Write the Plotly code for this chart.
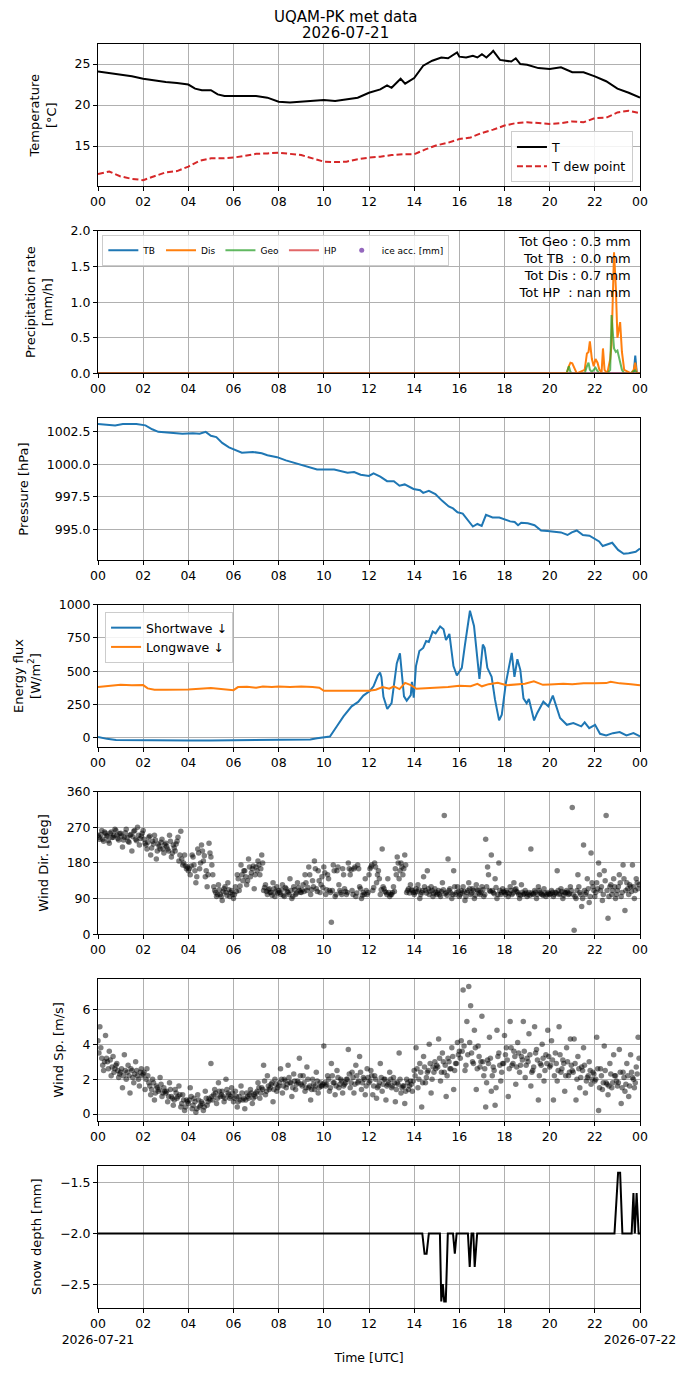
import pandas as pd
import plotly.graph_objects as go
from plotly.subplots import make_subplots

DAY0 = pd.Timestamp("2026-07-21 00:00")


def at(hours):
    return [DAY0 + pd.Timedelta(hours=h) for h in hours]


# ---------------- data ----------------
tick_hours = [0, 2, 4, 6, 8, 10, 12, 14, 16, 18, 20, 22, 24]
tick_labels = ["00", "02", "04", "06", "08", "10", "12", "14", "16", "18", "20", "22", "00"]
date_labels = ["2026-07-21", "2026-07-22"]
title_lines = ["UQAM-PK met data", "2026-07-21"]

# Temperature
t_hours = [0, 0.5, 1, 1.5, 2, 2.5, 3, 3.5, 4, 4.3, 4.6, 5, 5.3, 5.6, 6, 6.5, 7, 7.5, 8, 8.5, 9,
           9.5, 10, 10.5, 11, 11.5, 12, 12.5, 12.8, 13.0, 13.4, 13.6, 14, 14.4, 14.8, 15.2, 15.5,
           15.9, 16.0, 16.3, 16.6, 16.8, 17.0, 17.2, 17.4, 17.5, 17.8, 18.0, 18.3, 18.5, 18.7,
           19.0, 19.5, 20.0, 20.5, 21.0, 21.5, 22.0, 22.5, 23.0, 23.5, 24.0]
t_air = [24.1, 23.9, 23.7, 23.5, 23.2, 23.0, 22.8, 22.7, 22.5, 22.0, 21.8, 21.8, 21.3, 21.1, 21.1,
         21.1, 21.1, 20.9, 20.4, 20.3, 20.4, 20.5, 20.6, 20.5, 20.7, 20.9, 21.5, 21.9, 22.4, 22.1,
         23.2, 22.6, 23.3, 24.8, 25.4, 25.8, 25.7, 26.4, 25.9, 25.8, 26.0, 25.8, 26.2, 25.8, 26.3,
         26.6, 25.5, 25.4, 25.3, 25.7, 25.0, 24.9, 24.5, 24.4, 24.6, 24.0, 24.0, 23.5, 22.9, 22.0,
         21.5, 20.9]
td_hours = [0, 0.5, 1, 1.5, 2, 2.5, 3, 3.5, 4, 4.5, 5, 5.5, 6, 6.5, 7, 7.5, 8, 8.5, 9, 9.5, 10,
            10.5, 11, 11.5, 12, 12.5, 13, 13.5, 14, 14.5, 15, 15.5, 16, 16.5, 17, 17.5, 18, 18.5,
            19, 19.5, 20, 20.5, 21, 21.5, 22, 22.5, 23, 23.5, 24]
t_dew = [11.6, 11.9, 11.3, 11.0, 10.85, 11.3, 11.8, 11.95, 12.5, 13.2, 13.5, 13.5, 13.6, 13.8,
         14.05, 14.1, 14.2, 14.05, 13.9, 13.5, 13.1, 13.05, 13.1, 13.4, 13.6, 13.7, 13.9, 14.0,
         14.0, 14.6, 15.1, 15.4, 15.85, 16.05, 16.6, 17.0, 17.5, 17.8, 17.9, 17.8, 17.7, 17.8,
         18.0, 17.9, 18.4, 18.45, 19.1, 19.3, 19.0]

# Precipitation rate [mm/h]
pr_hours = [0, 20.75, 20.85, 20.92, 21.0, 21.2, 21.55, 21.65, 21.72, 21.78, 21.87, 21.95, 22.03,
            22.12, 22.2, 22.3, 22.36, 22.43, 22.55, 22.68, 22.74, 22.85, 22.93, 23.0, 23.12, 23.2,
            23.3, 23.6, 23.72, 23.79, 23.86, 24.0]
rate_tb = [0.0, 0.0, 0.0, 0.0, 0.0, 0.0, 0.0, 0.0, 0.0, 0.0, 0.0, 0.0, 0.0, 0.0, 0.0, 0.0, 0.0,
           0.0, 0.0, 0.0, 0.0, 0.0, 0.0, 0.0, 0.0, 0.0, 0.0, 0.0, 0.0, 0.25, 0.0, 0.0]
rate_dis = [0.0, 0.0, 0.1, 0.15, 0.14, 0.0, 0.05, 0.28, 0.3, 0.45, 0.2, 0.1, 0.2, 0.15, 0.05, 0.02,
            0.35, 0.05, 0.0, 0.2, 0.4, 1.7, 1.2, 0.5, 0.72, 0.3, 0.05, 0.0, 0.05, 0.15, 0.0, 0.0]
rate_geo = [0.0, 0.0, 0.1, 0.02, 0.0, 0.0, 0.0, 0.1, 0.15, 0.05, 0.02, 0.05, 0.08, 0.03, 0.0, 0.0,
            0.0, 0.0, 0.0, 0.05, 0.82, 0.35, 0.3, 0.32, 0.15, 0.05, 0.0, 0.0, 0.03, 0.04, 0.0, 0.0]
rate_hp = [0.0, 0.0, 0.0, 0.0, 0.0, 0.0, 0.0, 0.0, 0.0, 0.0, 0.0, 0.0, 0.0, 0.0, 0.0, 0.0, 0.0,
           0.0, 0.0, 0.0, 0.0, 0.0, 0.0, 0.0, 0.0, 0.0, 0.0, 0.0, 0.0, 0.0, 0.0, 0.0]
ice_hours = [0]
ice_acc = [None]          # no ice accumulation recorded
totals_text = ["Tot Geo : 0.3 mm", "Tot TB\u00a0 : 0.0 mm", "Tot Dis : 0.7 mm", "Tot HP\u00a0 : nan mm"]

# Pressure [hPa]
p_hours = [0, 0.76, 1.1, 1.7, 2.1, 2.4, 2.67, 3.25, 3.74, 4.2, 4.5, 4.77, 5.0, 5.24, 5.5, 5.8,
           6.08, 6.37, 6.86, 7.25, 7.5, 7.93, 8.32, 8.7, 9.1, 9.4, 9.7, 10.46, 10.75, 11.05, 11.34,
           11.63, 12.0, 12.2, 12.5, 12.8, 13.1, 13.35, 13.58, 13.97, 14.26, 14.4, 14.65, 14.94,
           15.23, 15.53, 15.72, 15.92, 16.15, 16.4, 16.6, 16.8, 16.99, 17.18, 17.47, 17.77, 18.06,
           18.25, 18.45, 18.6, 18.74, 19.03, 19.33, 19.62, 19.9, 20.2, 20.5, 20.79, 20.98, 21.2,
           21.47, 21.76, 21.96, 22.19, 22.35, 22.58, 22.77, 23.03, 23.28, 23.5, 23.81, 24.0]
pressure = [1003.1, 1003.0, 1003.1, 1003.1, 1003.0, 1002.7, 1002.5, 1002.4, 1002.35, 1002.4,
            1002.35, 1002.5, 1002.2, 1002.1, 1001.65, 1001.3, 1001.1, 1000.9, 1000.95, 1000.85,
            1000.7, 1000.55, 1000.3, 1000.1, 999.9, 999.7, 999.6, 999.6, 999.5, 999.35, 999.4,
            999.2, 999.1, 999.3, 999.05, 998.7, 998.7, 998.35, 998.45, 998.1, 998.0, 997.8, 997.95,
            997.7, 997.2, 996.75, 996.6, 996.3, 996.2, 995.6, 995.2, 995.4, 995.25, 996.1, 995.9,
            995.9, 995.7, 995.6, 995.55, 995.3, 995.5, 995.45, 995.3, 994.9, 994.85, 994.8, 994.75,
            994.55, 994.75, 994.9, 994.55, 994.5, 994.3, 994.05, 993.7, 993.85, 993.95, 993.4,
            993.1, 993.15, 993.25, 993.5]

# Energy flux [W/m2]
sw_hours = [0, 0.4, 0.8, 1.5, 2, 3, 4, 5, 6, 7, 8, 9, 9.4, 9.7, 10.0,
            10.27, 10.57, 10.87, 11.23, 11.52, 11.75, 12.02, 12.2, 12.39, 12.49,
            12.55, 12.64, 12.81, 13.0, 13.23, 13.37, 13.45, 13.55, 13.67, 13.85,
            13.9, 13.98, 14.08, 14.23, 14.4, 14.53, 14.65, 14.82, 14.95, 15.15,
            15.3, 15.41, 15.56, 15.74, 15.89, 16.11, 16.25, 16.47, 16.65, 16.77,
            16.89, 17.04, 17.12, 17.24, 17.43, 17.58, 17.76, 17.88, 18.06, 18.32,
            18.44, 18.57, 18.7, 18.84, 18.98, 19.08, 19.31, 19.45, 19.72, 19.94,
            20.14, 20.46, 20.76, 21.05, 21.4, 21.55, 21.75, 22.01, 22.23, 22.5,
            22.8, 23.1, 23.4, 23.71, 24.0]
shortwave = [5, -10, -18, -20, -22, -23, -23, -23, -22, -21, -21, -20, -15, -5, 0,
             8, 83, 159, 235, 268, 316, 348, 386, 467, 490,
             455, 306, 215, 260, 558, 634, 480, 310, 278, 320,
             420, 300, 538, 652, 675, 727, 720, 798, 785, 836,
             815, 735, 780, 538, 467, 525, 700, 955, 840, 664,
             442, 700, 675, 525, 457, 285, 129, 172, 410, 638,
             457, 590, 510, 295, 258, 290, 129, 185, 270, 235,
             316, 147, 96, 109, 84, 114, 71, 96, 28, 16,
             33, 41, 16, 33, 8]
lw_hours = [0, 0.3, 0.7, 1.0, 1.5, 2.0, 2.2, 2.5, 3, 4, 5, 5.5, 6.0, 6.2, 6.6, 7.0, 7.3, 7.7, 8,
            8.5, 9, 9.5, 9.8, 10.0, 11, 12, 12.3, 12.6, 12.9, 13.1, 13.35, 13.6, 13.85, 14.1,
            14.5, 15, 15.5, 16, 16.5, 16.8, 17.0, 17.3, 17.7, 18.1, 18.5, 18.9, 19.3, 19.7, 20.0,
            20.6, 21, 21.5, 22, 22.5, 22.7, 23.1, 23.6, 24.0]
longwave = [380, 385, 395, 398, 393, 395, 370, 360, 360, 362, 373, 365, 357, 380, 383, 375, 385,
            380, 385, 380, 385, 380, 375, 352, 350, 352, 360, 380, 368, 386, 365, 412, 395, 367,
            372, 375, 380, 390, 386, 405, 386, 402, 412, 394, 398, 405, 423, 397, 400, 405, 402,
            408, 408, 410, 420, 408, 402, 394]

# Wind, samples every 5 minutes starting at :00 (one row per hour)
wind_dir = [
    250, 240, 262, 235, 255, 248, 230, 258, 245, 265, 250, 238,
    255, 220, 245, 265, 235, 250, 210, 260, 240, 270, 225, 248,
    262, 230, 215, 245, 200, 235, 250, 190, 228, 215, 240, 205,
    230, 215, 250, 195, 225, 210, 235, 185, 260, 175, 200, 165,
    160, 150, 200, 175, 130, 215, 165, 225, 185, 145, 120, 230,
    195, 150, 110, 95, 125, 100, 85, 115, 105, 130, 95, 110,
    90, 120, 150, 110, 175, 135, 160, 125, 190, 145, 165, 115,
    170, 185, 150, 200, 110, 125, 100, 115, 105, 130, 95, 120,
    110, 100, 125, 95, 115, 105, 140, 90, 120, 100, 130, 110,
    105, 125, 150, 110, 170, 100, 135, 185, 115, 160, 105, 145,
    170, 100, 150, 110, 30, 175, 95, 160, 125, 105, 165, 115,
    100, 180, 150, 110, 165, 95, 175, 120, 90, 105, 140, 100,
    150, 170, 110, 180, 130, 160, 100, 215, 115, 105, 140, 95,
    100, 120, 165, 195, 140, 180, 150, 200, 105, 115, 125, 110,
    100, 115, 125, 90, 105, 145, 110, 160, 100, 120, 95, 115,
    100, 110, 95, 130, 300, 105, 190, 115, 90, 160, 100, 120,
    95, 110, 120, 85, 105, 130, 100, 115, 90, 125, 110, 100,
    120, 95, 240, 170, 110, 200, 105, 140, 90, 180, 100, 115,
    105, 110, 95, 120, 100, 130, 115, 105, 90, 125, 100, 110,
    95, 105, 215, 100, 110, 90, 120, 105, 100, 115, 95, 105,
    100, 110, 95, 105, 160, 100, 115, 90, 105, 110, 100, 120,
    320, 10, 90, 150, 105, 70, 225, 100, 140, 80, 205, 120,
    95, 130, 180, 110, 85, 160, 300, 40, 120, 100, 140, 90,
    110, 150, 95, 175, 60, 130, 100, 120, 175, 90, 140, 115,
]
# Wind, samples every 5 minutes starting at :02.5
wind_dir_mid = [
    245, 252, 240, 258, 248, 236, 255, 244, 250, 262, 242, 254,
    248, 238, 256, 244, 232, 252, 246, 262, 236, 250, 242, 255,
    240, 225, 232, 248, 218, 228, 238, 210, 222, 232, 215, 226,
    222, 210, 235, 205, 218, 228, 245, 200, 190, 180, 172, 170,
    165, 172, 195, 160, 145, 205, 180, 210, 198, 160, 150, 205,
    175, 120, 105, 100, 112, 95, 108, 120, 98, 112, 105, 100,
    100, 108, 140, 122, 150, 160, 145, 135, 170, 155, 172, 150,
    160, 175, 165, 180, 118, 108, 112, 105, 98, 115, 108, 104,
    105, 112, 98, 118, 108, 100, 110, 96, 112, 104, 118, 106,
    112, 108, 130, 118, 150, 112, 120, 165, 108, 135, 125, 118,
    155, 112, 140, 105, 110, 160, 100, 170, 110, 100, 150, 108,
    105, 165, 162, 100, 170, 104, 165, 115, 98, 100, 110, 105,
    165, 175, 118, 170, 150, 140, 112, 120, 108, 100, 105, 100,
    105, 108, 150, 180, 160, 170, 165, 175, 110, 104, 112, 105,
    105, 108, 112, 100, 110, 120, 104, 115, 108, 110, 102, 106,
    104, 100, 108, 112, 102, 98, 110, 104, 100, 120, 105, 108,
    100, 104, 108, 95, 110, 115, 104, 110, 98, 112, 104, 106,
    112, 100, 120, 150, 108, 110, 102, 118, 100, 110, 105, 108,
    100, 105, 102, 110, 104, 112, 108, 100, 98, 106, 102, 104,
    100, 98, 104, 102, 106, 100, 110, 102, 98, 104, 100, 102,
    102, 106, 100, 104, 110, 102, 108, 98, 104, 106, 102, 110,
    100, 95, 110, 120, 100, 90, 110, 105, 115, 95, 130, 110,
    105, 115, 150, 120, 100, 135, 110, 95, 125, 110, 120, 100,
    120, 130, 105, 140, 110, 115, 125, 108, 120, 110, 130, 125,
]
wind_speed = [
    4.2, 5.0, 3.2, 2.5, 4.5, 3.0, 3.6, 2.2, 3.3, 2.6, 2.9, 2.1,
    2.4, 1.5, 3.4, 2.0, 2.8, 1.2, 2.5, 1.8, 3.0, 2.2, 1.6, 2.6,
    2.3, 1.4, 2.6, 1.8, 1.1, 2.0, 0.8, 1.6, 1.3, 2.1, 1.0, 1.5,
    1.2, 0.7, 1.8, 1.0, 0.5, 1.4, 0.9, 1.6, 0.4, 1.1, 0.2, 0.8,
    0.6, 1.5, 0.3, 0.9, 0.1, 1.1, 0.4, 0.7, 0.2, 1.3, 0.5, 0.9,
    2.9, 0.8, 1.4, 0.6, 1.8, 1.0, 1.3, 0.7, 2.0, 1.2, 0.9, 1.5,
    0.7, 1.3, 0.4, 1.0, 1.6, 0.8, 0.3, 1.2, 0.9, 1.4, 0.6, 1.1,
    1.2, 1.8, 0.9, 1.5, 2.8, 1.1, 2.2, 1.4, 1.7, 0.7, 2.0, 1.3,
    1.6, 2.6, 1.2, 2.0, 1.5, 2.8, 1.8, 1.0, 2.3, 1.4, 1.9, 3.2,
    1.7, 2.2, 1.3, 2.7, 1.5, 0.8, 2.0, 1.4, 2.4, 1.2, 1.8, 1.6,
    3.9, 1.6, 2.2, 1.3, 2.9, 1.8, 1.1, 2.5, 1.5, 2.0, 1.2, 1.7,
    2.0, 3.7, 1.5, 2.4, 1.2, 2.8, 1.8, 3.3, 1.4, 2.1, 1.1, 2.6,
    1.8, 2.5, 1.1, 2.2, 0.9, 1.6, 2.9, 1.3, 2.0, 0.8, 1.7, 2.4,
    1.5, 2.1, 0.7, 1.8, 3.5, 1.2, 1.6, 0.6, 2.0, 1.4, 1.9, 1.3,
    2.5, 3.8, 1.5, 2.9, 0.4, 3.3, 1.8, 2.4, 4.0, 1.2, 2.7, 3.0,
    2.8, 4.3, 1.9, 3.5, 2.4, 1.0, 3.2, 2.6, 3.8, 1.4, 2.9, 4.1,
    3.6, 4.2, 7.1, 2.5, 5.3, 7.3, 6.2, 3.0, 4.8, 1.4, 3.9, 2.7,
    5.6, 2.2, 0.4, 3.1, 4.4, 1.3, 2.7, 0.5, 4.8, 3.5, 1.9, 2.9,
    4.5, 3.8, 1.0, 5.3, 2.8, 3.6, 1.7, 4.1, 2.4, 3.3, 5.3, 2.1,
    3.2, 4.6, 1.6, 2.5, 5.0, 3.7, 0.8, 2.9, 4.0, 1.9, 3.4, 4.8,
    2.7, 4.2, 0.8, 3.5, 1.9, 5.0, 2.4, 3.1, 1.3, 3.8, 2.2, 4.3,
    2.5, 4.3, 0.8, 3.3, 1.5, 2.7, 3.8, 1.2, 2.1, 3.0, 1.7, 2.4,
    1.9, 4.4, 0.2, 2.6, 1.4, 3.9, 1.8, 1.1, 2.9, 1.5, 3.4, 2.2,
    1.6, 3.7, 0.6, 2.4, 1.3, 2.9, 1.0, 3.4, 2.1, 1.5, 2.7, 4.4,
]
wind_speed_mid = [
    3.5, 3.8, 2.8, 3.0, 3.2, 2.6, 3.1, 2.7, 2.4, 2.8, 2.5, 2.3,
    2.6, 2.2, 2.5, 2.4, 2.2, 2.6, 2.1, 2.3, 2.5, 2.0, 2.4, 2.2,
    2.4, 2.0, 2.2, 1.6, 1.4, 1.8, 1.2, 1.5, 1.4, 1.7, 1.2, 1.3,
    1.3, 1.0, 1.4, 0.9, 0.8, 1.2, 1.0, 1.1, 0.6, 0.8, 0.4, 0.7,
    0.8, 1.0, 0.5, 0.7, 0.3, 0.8, 0.5, 0.6, 0.4, 0.9, 0.7, 0.8,
    1.0, 1.1, 1.2, 0.9, 1.3, 1.1, 1.0, 0.9, 1.4, 1.1, 1.0, 1.2,
    0.9, 1.0, 0.7, 0.8, 1.2, 0.9, 0.8, 1.0, 1.1, 1.2, 0.9, 1.0,
    1.3, 1.5, 1.2, 1.4, 1.9, 1.3, 1.6, 1.5, 1.8, 1.4, 1.7, 1.5,
    1.8, 2.0, 1.6, 1.9, 1.7, 2.1, 1.8, 1.5, 1.9, 1.7, 1.8, 2.2,
    1.6, 1.8, 1.5, 2.0, 1.6, 1.4, 1.7, 1.6, 1.9, 1.5, 1.6, 1.7,
    1.8, 1.7, 2.0, 1.5, 2.2, 1.8, 1.6, 2.1, 1.7, 1.9, 1.6, 1.8,
    2.0, 2.3, 1.8, 2.1, 1.7, 2.2, 1.9, 2.4, 1.8, 2.0, 1.6, 2.1,
    1.9, 2.2, 1.6, 2.0, 1.5, 1.8, 2.1, 1.7, 2.0, 1.6, 1.8, 2.0,
    1.6, 1.8, 1.4, 1.7, 2.0, 1.5, 1.6, 1.3, 1.8, 1.6, 1.7, 1.9,
    2.2, 2.6, 2.0, 2.4, 1.8, 2.7, 2.1, 2.5, 2.9, 2.0, 2.4, 2.6,
    2.7, 3.2, 2.4, 3.0, 2.8, 2.2, 3.0, 2.6, 3.3, 2.5, 2.9, 3.4,
    3.2, 3.6, 3.9, 2.8, 3.4, 4.1, 3.5, 2.9, 3.8, 2.6, 3.3, 3.0,
    3.0, 2.6, 1.8, 2.9, 3.2, 2.2, 2.5, 1.5, 3.3, 2.8, 2.4, 2.9,
    3.4, 3.1, 2.6, 3.8, 2.9, 3.3, 2.7, 3.5, 2.8, 3.1, 3.6, 2.8,
    3.0, 3.4, 2.4, 2.7, 3.5, 3.1, 2.2, 2.8, 3.2, 2.5, 2.9, 3.3,
    2.8, 3.1, 2.2, 2.9, 2.5, 3.4, 2.6, 2.9, 2.2, 3.0, 2.4, 2.8,
    2.4, 2.9, 2.0, 2.6, 2.1, 2.5, 2.8, 1.9, 2.2, 2.5, 2.0, 2.3,
    2.0, 2.6, 1.5, 2.2, 1.8, 2.5, 1.7, 1.6, 2.3, 1.8, 2.2, 1.9,
    1.8, 2.4, 1.5, 2.1, 1.7, 2.2, 1.6, 2.4, 2.0, 1.8, 2.3, 3.2,
]
wind_hours = [i / 12 for i in range(len(wind_dir))]
wind_hours_mid = [i / 12 + 1 / 24 for i in range(len(wind_dir_mid))]

# Snow depth [mm]
sn_hours = [0, 14.36, 14.46, 14.55, 14.65, 15.14, 15.2, 15.27, 15.33, 15.4, 15.49, 15.72, 15.8,
            15.88, 16.38, 16.46, 16.54, 16.62, 16.68, 16.79, 22.87, 23.03, 23.12, 23.22, 23.63,
            23.71, 23.77, 23.85, 23.94, 24.0]
snow_depth = [-2.0, -2.0, -2.2, -2.2, -2.0, -2.0, -2.67, -2.5, -2.67, -2.67, -2.0, -2.0, -2.2,
              -2.0, -2.0, -2.33, -2.0, -2.0, -2.33, -2.0, -2.0, -1.4, -1.4, -2.0, -2.0, -1.6,
              -2.0, -1.6, -2.0, -2.0]

# ---------------- figure ----------------
FONT = "DejaVu Sans"
BLUE, ORANGE, GREEN, RED, PURPLE = "#1f77b4", "#ff7f0e", "#2ca02c", "#d62728", "#9467bd"

fig = make_subplots(rows=7, cols=1, vertical_spacing=0.0352)

fig.add_trace(go.Scatter(x=at(t_hours), y=t_air, mode="lines", name="T",
                         line=dict(color="black", width=2), legend="legend"), row=1, col=1)
fig.add_trace(go.Scatter(x=at(td_hours), y=t_dew, mode="lines", name="T dew point",
                         line=dict(color=RED, width=2, dash="6px,3px"), legend="legend"), row=1, col=1)

fig.add_trace(go.Scatter(x=at(pr_hours), y=rate_tb, mode="lines", name="TB",
                         line=dict(color=BLUE, width=2), legend="legend2"), row=2, col=1)
fig.add_trace(go.Scatter(x=at(pr_hours), y=rate_dis, mode="lines", name="Dis",
                         line=dict(color=ORANGE, width=2), legend="legend2"), row=2, col=1)
fig.add_trace(go.Scatter(x=at(pr_hours), y=rate_geo, mode="lines", name="Geo",
                         line=dict(color="rgba(44,160,44,0.75)", width=2), legend="legend2"), row=2, col=1)
fig.add_trace(go.Scatter(x=at(pr_hours), y=rate_hp, mode="lines", name="HP",
                         line=dict(color="rgba(214,39,40,0.7)", width=2), legend="legend2"), row=2, col=1)
fig.add_trace(go.Scatter(x=at(ice_hours), y=ice_acc, mode="markers", name="ice acc. [mm]",
                         marker=dict(color=PURPLE, size=5), legend="legend2"), row=2, col=1)

fig.add_trace(go.Scatter(x=at(p_hours), y=pressure, mode="lines", showlegend=False,
                         line=dict(color=BLUE, width=2)), row=3, col=1)

fig.add_trace(go.Scatter(x=at(sw_hours), y=shortwave, mode="lines", name="Shortwave \u2193",
                         line=dict(color=BLUE, width=2), legend="legend3"), row=4, col=1)
fig.add_trace(go.Scatter(x=at(lw_hours), y=longwave, mode="lines", name="Longwave \u2193",
                         line=dict(color=ORANGE, width=2), legend="legend3"), row=4, col=1)

wind_marker = dict(color="black", size=5.5, opacity=0.5, line=dict(width=0))
fig.add_trace(go.Scatter(x=at(wind_hours + wind_hours_mid), y=wind_dir + wind_dir_mid,
                         mode="markers", showlegend=False, marker=wind_marker), row=5, col=1)
fig.add_trace(go.Scatter(x=at(wind_hours + wind_hours_mid), y=wind_speed + wind_speed_mid,
                         mode="markers", showlegend=False, marker=wind_marker), row=6, col=1)

fig.add_trace(go.Scatter(x=at(sn_hours), y=snow_depth, mode="lines", showlegend=False,
                         line=dict(color="black", width=2)), row=7, col=1)

axis_style = dict(showline=True, linecolor="black", linewidth=1, mirror=True,
                  ticks="outside", ticklen=4, tickwidth=1, tickcolor="black",
                  showgrid=True, gridcolor="#b0b0b0", gridwidth=1, zeroline=False,
                  tickfont=dict(family=FONT, size=12.5, color="black"))

tick_times = at(tick_hours)
bottom_labels = list(tick_labels)
bottom_labels[0] = tick_labels[0] + "<br>" + date_labels[0]
bottom_labels[-1] = tick_labels[-1] + "<br>" + date_labels[1]

for r in range(1, 8):
    fig.update_xaxes(row=r, col=1, type="date", range=[tick_times[0], tick_times[-1]],
                     tickmode="array", tickvals=tick_times, tickangle=0,
                     ticktext=bottom_labels if r == 7 else tick_labels, **axis_style)

fig.update_xaxes(row=7, col=1, title=dict(text="Time [UTC]", font=dict(family=FONT, size=12.5),
                                          standoff=6))

ytitle_font = dict(family=FONT, size=13, color="black")
fig.update_yaxes(row=1, col=1, range=[10.08, 27.44], tickmode="linear", tick0=0, dtick=5,
                 title=dict(text="Temperature<br>[°C]", font=ytitle_font), **axis_style)
fig.update_yaxes(row=2, col=1, range=[0, 2.0], tickmode="linear", tick0=0, dtick=0.5,
                 tickformat=".1f", title=dict(text="Precipitation rate<br>[mm/h]", font=ytitle_font),
                 **axis_style)
fig.update_yaxes(row=3, col=1, range=[992.6, 1003.58], tickmode="linear", tick0=1000, dtick=2.5,
                 tickformat=".1f", title=dict(text="Pressure [hPa]", font=ytitle_font), **axis_style)
fig.update_yaxes(row=4, col=1, range=[-73, 1000], tickmode="linear", tick0=0, dtick=250,
                 title=dict(text="Energy flux<br>[W/m<sup>2</sup>]", font=ytitle_font), **axis_style)
fig.update_yaxes(row=5, col=1, range=[0, 360], tickmode="linear", tick0=0, dtick=90,
                 title=dict(text="Wind Dir. [deg]", font=ytitle_font), **axis_style)
fig.update_yaxes(row=6, col=1, range=[-0.4, 7.75], tickmode="linear", tick0=0, dtick=2,
                 title=dict(text="Wind Sp. [m/s]", font=ytitle_font), **axis_style)
fig.update_yaxes(row=7, col=1, range=[-2.735, -1.33], tickmode="linear", tick0=-2, dtick=0.5,
                 tickformat=".1f", title=dict(text="Snow depth [mm]", font=ytitle_font), **axis_style)

fig.add_annotation(xref="x2 domain", yref="y2 domain", x=0.988, y=0.99, xanchor="right",
                   yanchor="top", align="right", showarrow=False,
                   text="<br>".join(totals_text), font=dict(family=FONT, size=13, color="black"))

# figure title (two lines), centred on the whole figure width
for line_text, shift in zip(title_lines, [27, 11.5]):
    fig.add_annotation(xref="paper", yref="paper", x=(345 - 98) / 542, y=1, xanchor="center",
                       yanchor="middle", yshift=shift, showarrow=False,
                       text=line_text, font=dict(family=FONT, size=15, color="black"))

legend_box = dict(bgcolor="rgba(255,255,255,0.85)", bordercolor="#cccccc", borderwidth=1)
fig.update_layout(
    width=690, height=1377,
    margin=dict(l=98, r=50, t=44, b=69),
    paper_bgcolor="white", plot_bgcolor="white",
    font=dict(family=FONT, size=12.5, color="black"),
    legend=dict(x=0.987, y=0.8905, xanchor="right", yanchor="bottom",
                font=dict(family=FONT, size=12.5), itemwidth=30, tracegroupgap=0, **legend_box),
    legend2=dict(x=0.008, y=0.849, xanchor="left", yanchor="top", orientation="h",
                 itemwidth=30, font=dict(family=FONT, size=9), **legend_box),
    legend3=dict(x=0.013, y=0.5506, xanchor="left", yanchor="top",
                 font=dict(family=FONT, size=12.5), itemwidth=30, **legend_box),
)

fig.write_html("out.html", config={"displayModeBar": False},
               post_script="document.body.style.margin='0px';document.body.style.overflow='hidden';")
